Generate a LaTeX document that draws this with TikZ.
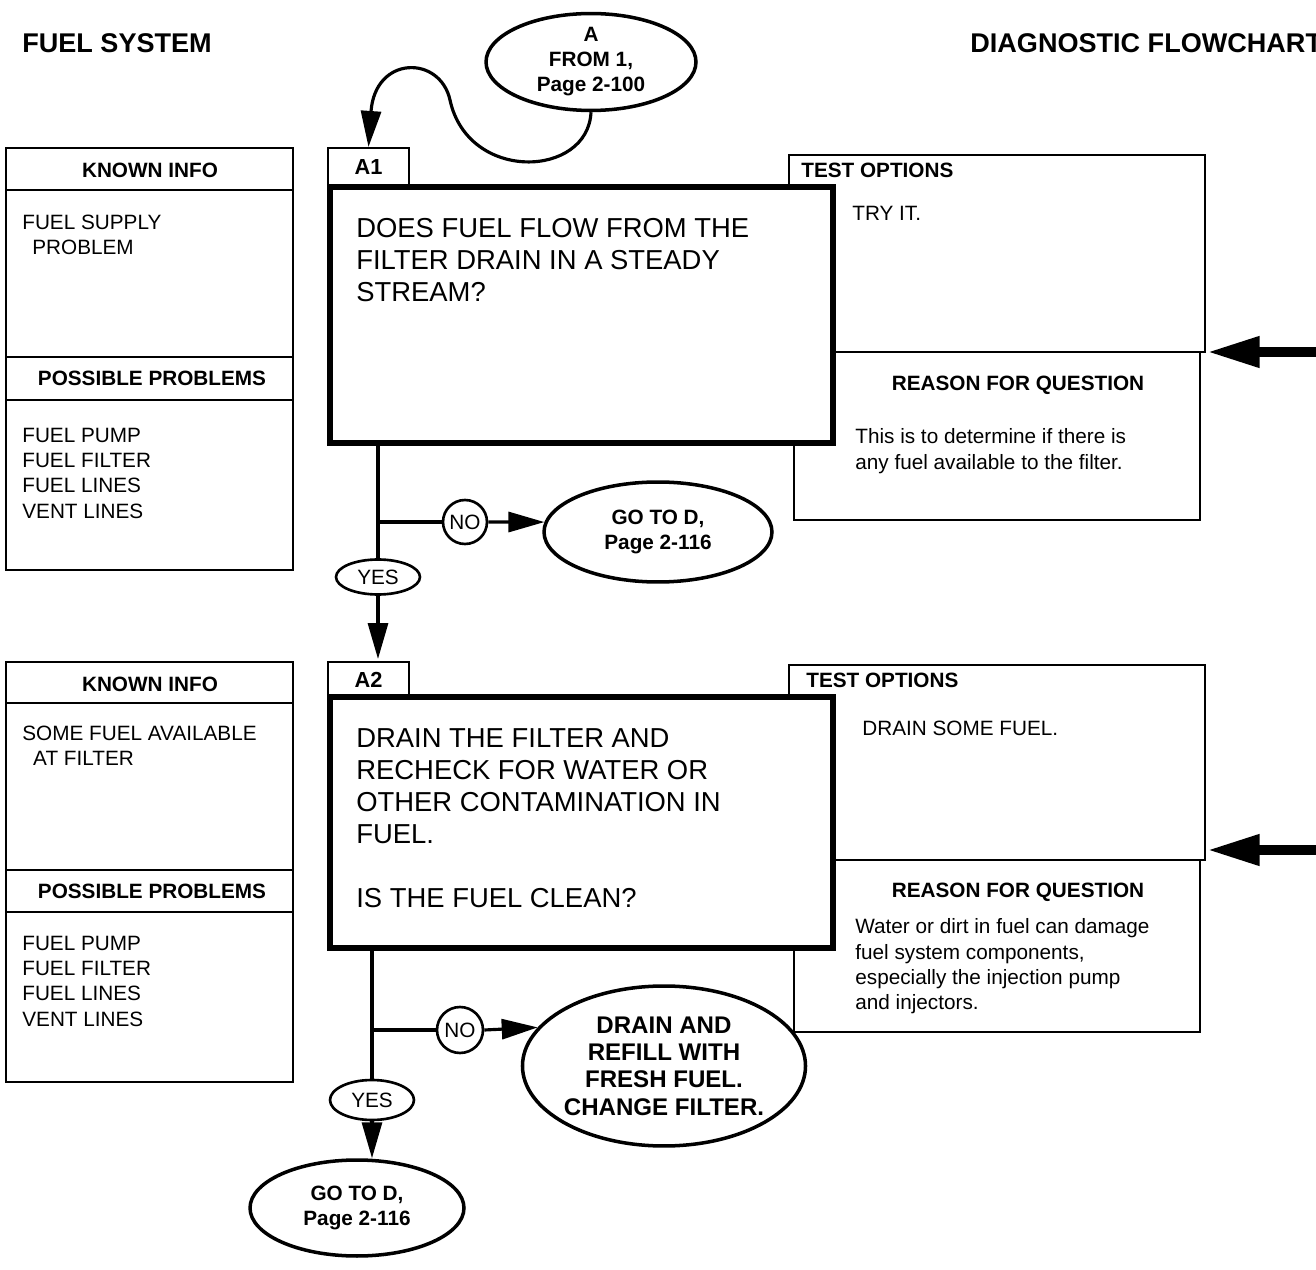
\documentclass[tikz,border=0pt]{standalone}
\usepackage{fontspec}
\setmainfont{Liberation Sans}
\usetikzlibrary{arrows.meta,shapes.geometric}

% type sizes
\newcommand\hdfont{\fontsize{15.4}{18}\selectfont\bfseries}
\newcommand\qfont{\fontsize{15.6}{18.2}\selectfont}
\newcommand\smfont{\fontsize{11.8}{14.4}\selectfont}
\newcommand\smbold{\fontsize{11.8}{14.2}\selectfont\bfseries}
\newcommand\ovbold{\fontsize{13.7}{15.6}\selectfont\bfseries}
\newcommand\tabfont{\fontsize{12.4}{14}\selectfont\bfseries}

\begin{document}
\begin{tikzpicture}[x=0.02cm,y=-0.02cm,
  thinline/.style={line width=1.2pt},
  qbox/.style={draw, fill=white, line width=3.4pt},
  flow/.style={line width=1.8pt},
  tip/.style={-{Triangle[length=0.72cm,width=0.4cm]}},
  bigtip/.style={line width=5.7pt,-{Triangle[length=1.05cm,width=0.58cm]}},
  oval/.style={ellipse, draw, line width=2pt, inner sep=0pt, align=center, font=\smbold},
  yesoval/.style={ellipse, draw, line width=1.5pt, inner sep=0pt, font=\smfont,
                  minimum width=1.68cm},
  nocirc/.style={circle, draw, line width=1.5pt, inner sep=0pt, font=\smfont},
  tab/.style={draw, line width=1.2pt, inner sep=0pt, font=\tabfont, minimum width=1.62cm},
  qtext/.style={inner sep=0pt, align=left, font=\qfont},
  body/.style={inner sep=0pt, align=left, font=\smfont},
  head/.style={inner sep=0pt, font=\smbold},
]
\useasboundingbox (0,0) rectangle (1316,1270);
\fill[white] (0,0) rectangle (1316,1270);

% page titles
\node[inner sep=0pt, anchor=west, font=\hdfont] (title) at (22,43) {FUEL SYSTEM};
\node[inner sep=0pt, anchor=west, font=\hdfont] (title2) at (970,43) {DIAGNOSTIC FLOWCHART};

% ================= step A1 =================
% known info panel
\draw[thinline] (6,148) rectangle (293,570);
\draw[thinline] (6,190) -- (293,190) (6,357) -- (293,357) (6,400) -- (293,400);
\node[head] (k1h) at (150,170) {KNOWN INFO};
\node[body, anchor=north west] (k1t) at (22,214.6) {FUEL SUPPLY\\\hspace*{5.7pt}PROBLEM};
\node[head] (p1h) at (152,378) {POSSIBLE PROBLEMS};
\node[body, anchor=north west] (p1t) at (22,427.6) {FUEL PUMP\\FUEL FILTER\\FUEL LINES\\VENT LINES};

% test options / reason panels
\draw[thinline] (789,155) rectangle (1205,352);
\draw[thinline] (794,352) rectangle (1200,520);
\node[head, anchor=west] (t1h) at (801,170) {TEST OPTIONS};
\node[body, anchor=west] (t1t) at (852,213) {TRY IT.};
\node[head] (r1h) at (1018,385) {REASON FOR QUESTION};
\node[body, anchor=north west] (r1t) at (855,428.5) {This is to determine if there is\\any fuel available to the filter.};

% question box
\node[tab, minimum height=0.76cm] (a1) at (368.5,167) {A1};
\draw[qbox] (330,187) rectangle (833,443);
\node[qtext, anchor=north west] (q1t) at (356,218.2)
  {DOES FUEL FLOW FROM THE\\FILTER DRAIN IN A STEADY\\STREAM?};

% entry connector
\node[oval, minimum width=4.2cm, minimum height=1.88cm] (fromA) at (591,62)
  {A\\FROM 1,\\Page 2-100};
\draw[flow,tip] (fromA.south) .. controls (588,178) and (468,183) .. (450,100)
  .. controls (440,55) and (375,55) .. (a1.north);

% outside input
\coordinate (in1) at (1345,352);
\coordinate (tst1) at (1207,352);
\draw[bigtip] (in1) -- (tst1);

% branches
\coordinate (q1b) at (378,446);
\coordinate (br1) at (378,522);
\coordinate (a2in) at (378,659);
\node[yesoval, minimum height=0.7cm] (yes1) at (378,577) {YES};
\node[nocirc, minimum size=0.88cm] (no1) at (465,522) {NO};
\node[oval, minimum width=4.56cm, minimum height=2.0cm] (goD1) at (658,532)
  {GO TO D,\\Page 2-116};
\draw[flow] (q1b) -- (yes1.north);
\draw[flow] (br1) -- (no1.west);
\draw[flow,tip] (no1.east) -- (goD1.175);
\draw[flow,tip] (yes1.south) -- (a2in);

% ================= step A2 =================
\draw[thinline] (6,662) rectangle (293,1082);
\draw[thinline] (6,703) -- (293,703) (6,870) -- (293,870) (6,912) -- (293,912);
\node[head] (k2h) at (150,684) {KNOWN INFO};
\node[body, anchor=north west] (k2t) at (22,725.6) {SOME FUEL AVAILABLE\\\hspace*{6.2pt}AT FILTER};
\node[head] (p2h) at (152,891) {POSSIBLE PROBLEMS};
\node[body, anchor=north west] (p2t) at (22,935.6) {FUEL PUMP\\FUEL FILTER\\FUEL LINES\\VENT LINES};

\draw[thinline] (789,665) rectangle (1205,860);
\draw[thinline] (794,860) rectangle (1200,1032);
\node[head, anchor=west] (t2h) at (806,680) {TEST OPTIONS};
\node[body, anchor=west] (t2t) at (862,728) {DRAIN SOME FUEL.};
\node[head] (r2h) at (1018,892) {REASON FOR QUESTION};
\node[body, anchor=north west] (r2t) at (855,918.5)
  {Water or dirt in fuel can damage\\fuel system components,\\especially the injection pump\\and injectors.};

\node[tab, minimum height=0.7cm] (a2) at (368.5,679.5) {A2};
\draw[qbox] (330,697) rectangle (833,948);
\node[qtext, anchor=north west] (q2t) at (356,728.2)
  {DRAIN THE FILTER AND\\RECHECK FOR WATER OR\\OTHER CONTAMINATION IN\\FUEL.\\[18.2pt]IS THE FUEL CLEAN?};

\coordinate (in2) at (1345,850);
\coordinate (tst2) at (1207,850);
\draw[bigtip] (in2) -- (tst2);

\coordinate (q2b) at (372,951);
\coordinate (br2) at (372,1030);
\node[yesoval, minimum height=0.8cm] (yes2) at (372,1100) {YES};
\node[nocirc, minimum size=0.92cm] (no2) at (460,1030) {NO};
\node[oval, font=\ovbold, minimum width=5.44cm, minimum height=3.2cm] (fix2) at (664,1066)
  {DRAIN AND\\REFILL WITH\\FRESH FUEL.\\CHANGE FILTER.};
\node[oval, minimum width=4.28cm, minimum height=1.92cm] (goD2) at (357,1208)
  {GO TO D,\\Page 2-116};
\draw[flow] (q2b) -- (yes2.north);
\draw[flow] (br2) -- (no2.west);
\draw[flow,tip] (no2.east) -- (fix2.163.5);
\draw[flow,tip] (yes2.south) -- (yes2.south |- goD2.north);
\end{tikzpicture}
\end{document}
